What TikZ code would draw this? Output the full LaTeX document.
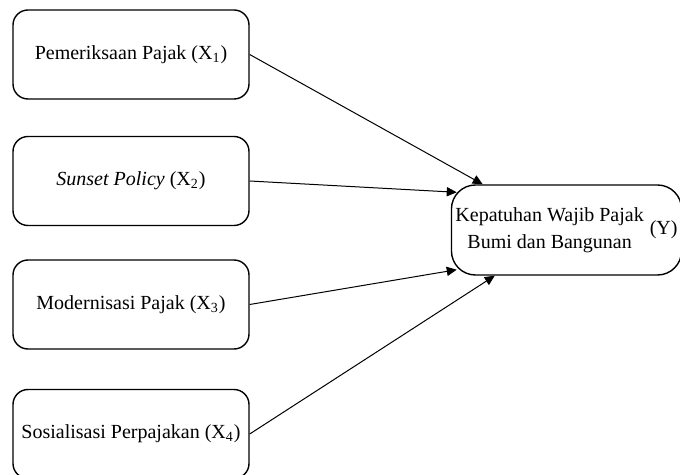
\documentclass[tikz,border=0pt]{standalone}
\usepackage{fontspec}
\setmainfont{Liberation Serif}
\usetikzlibrary{arrows.meta,calc}
\tikzset{bx/.style={draw,line width=0.7pt,rounded corners=7.5pt,minimum width=118pt,minimum height=44.5pt,align=center,font=\fontsize{10}{12}\selectfont,inner sep=2pt},
 yb/.style={bx,rounded corners=12pt,minimum width=113.5pt,minimum height=45pt},
 ar/.style={-{Triangle[length=5pt,width=4.6pt]},line width=0.5pt}}

\begin{document}
\begin{tikzpicture}[x=0.5pt,y=-0.5pt]
\useasboundingbox (0,0) rectangle (680,475);
\node[bx](x1) at (131,54.5){Pemeriksaan Pajak (X\textsubscript{1})};
\node[bx](x2) at (131,181){\textit{Sunset Policy} (X\textsubscript{2})};
\node[bx](x3) at (131,304.5){Modernisasi Pajak (X\textsubscript{3})};
\node[bx](x4) at (131,434){Sosialisasi Perpajakan (X\textsubscript{4})};
\node[yb](y) at (566.5,230){\begin{tabular}{@{}c@{}}Kepatuhan Wajib Pajak\\[1.5pt]Bumi dan Bangunan\end{tabular}\hspace{3pt}(Y)};
\draw[ar](x1.east)--($(y.north west)+(32,0)$);\draw[ar](x2.east)--($(y.north west)+(6,8)$);
\draw[ar](x3.east)--($(y.south west)+(6,-6)$);\draw[ar](x4.east)--($(y.south west)+(44,0)$);
\end{tikzpicture}
\end{document}
